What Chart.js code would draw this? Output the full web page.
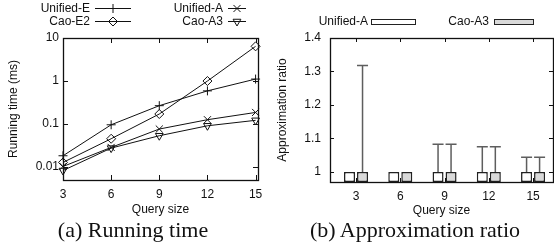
<!DOCTYPE html>
<html><head><meta charset="utf-8">
<script src="https://cdn.jsdelivr.net/npm/chart.js@4/dist/chart.umd.min.js"></script>
<style>
html,body{margin:0;padding:0;background:#fff;width:554px;height:248px;overflow:hidden;position:relative}
#wa{position:absolute;left:0;top:0;width:277px;height:248px}
#wb{position:absolute;left:267px;top:0;width:287px;height:248px}
.cap{position:absolute;top:218px;width:300px;font-family:"Liberation Serif","Times New Roman",serif;font-size:22px;line-height:24px;color:#111;white-space:nowrap;text-align:center}
</style></head><body>
<div id="wa"><canvas id="c1" width="277" height="248"></canvas></div>
<div id="wb"><canvas id="c2" width="287" height="248"></canvas></div>
<div class="cap" style="left:-17px">(a) Running time</div>
<div class="cap" style="left:265px">(b) Approximation ratio</div>
<script>
// ---- data (a) running time ----
const querySizes = [3, 6, 9, 12, 15];
const unifiedE = [0.0183, 0.096, 0.267, 0.59, 1.11];
const caoE2 = [0.0128, 0.0455, 0.171, 1.0, 6.4];
const unifiedA = [0.0103, 0.0286, 0.0765, 0.126, 0.186];
const caoA3 = [0.0083, 0.0276, 0.0535, 0.091, 0.122];
const timeTicks = [0.01, 0.1, 1, 10];
// ---- data (b) approximation ratio ----
const ratioCategories = ['3', '6', '9', '12', '15'];
const ratioUnifiedA = [1, 1, 1, 1, 1];
const ratioCaoA3 = [1, 1, 1, 1, 1];
const ratioUnifiedAMax = [1, 1, 1.083, 1.075, 1.044];
const ratioCaoA3Max = [1.318, 1, 1.083, 1.075, 1.044];
const ratioTicks = [1, 1.1, 1.2, 1.3, 1.4];

Chart.defaults.font.family = '"Liberation Sans", Arial, Helvetica, sans-serif';
Chart.defaults.font.size = 12;
Chart.defaults.color = '#111';

const frameAndTicks = {
  id: 'frameAndTicks',
  afterDatasetsDraw(chart, args, opts) {
    const {ctx, chartArea: a, scales: {x, y}} = chart;
    ctx.save();
    ctx.strokeStyle = '#111';
    ctx.lineWidth = 1;
    ctx.beginPath();
    x.ticks.forEach(t => {
      const px = Math.round(x.getPixelForValue(t.value)) + 0.5;
      ctx.moveTo(px, a.bottom); ctx.lineTo(px, a.bottom - opts.len);
      ctx.moveTo(px, a.top); ctx.lineTo(px, a.top + opts.len);
    });
    y.ticks.forEach(t => {
      const py = Math.round(y.getPixelForValue(t.value)) + 0.5;
      ctx.moveTo(a.left, py); ctx.lineTo(a.left + opts.len, py);
      ctx.moveTo(a.right, py); ctx.lineTo(a.right - opts.len, py);
    });
    ctx.stroke();
    ctx.lineWidth = 1.3;
    ctx.strokeRect(Math.round(a.left) + 0.5, Math.round(a.top) + 0.5, Math.round(a.right - a.left), Math.round(a.bottom - a.top));
    ctx.restore();
  }
};

const lineLegend = {
  id: 'lineLegend',
  afterDraw(chart, args, opts) {
    const ctx = chart.ctx;
    ctx.save();
    ctx.font = '12px "Liberation Sans", Arial, sans-serif';
    ctx.textAlign = 'right';
    ctx.textBaseline = 'middle';
    opts.items.forEach((it, i) => {
      const ds = chart.data.datasets[i];
      ctx.fillStyle = '#111';
      ctx.fillText(ds.label, it.tx, it.y + 0.5);
      ctx.strokeStyle = '#111';
      ctx.lineWidth = 1;
      ctx.beginPath();
      ctx.moveTo(it.x1, it.y + 0.5); ctx.lineTo(it.x2, it.y + 0.5);
      ctx.stroke();
      ctx.fillStyle = 'rgba(0,0,0,0)';
      Chart.helpers.drawPoint(ctx, {
        pointStyle: ds.pointStyle, radius: ds.pointRadius, rotation: ds.pointRotation || 0,
        borderWidth: 1
      }, (it.x1 + it.x2) / 2, it.y + 0.5);
    });
    ctx.restore();
  }
};

new Chart(document.getElementById('c1'), {
  type: 'line',
  data: {
    datasets: [
      {label: 'Unified-E', data: querySizes.map((q, i) => ({x: q, y: unifiedE[i]})), pointStyle: 'cross', pointRadius: 4.5},
      {label: 'Cao-E2', data: querySizes.map((q, i) => ({x: q, y: caoE2[i]})), pointStyle: 'rectRot', pointRadius: 4.5},
      {label: 'Unified-A', data: querySizes.map((q, i) => ({x: q, y: unifiedA[i]})), pointStyle: 'crossRot', pointRadius: 5},
      {label: 'Cao-A3', data: querySizes.map((q, i) => ({x: q, y: caoA3[i]})), pointStyle: 'triangle', pointRotation: 180, pointRadius: 4.5}
    ].map(d => Object.assign({borderColor: '#111', borderWidth: 1, pointBorderColor: '#111', pointBackgroundColor: 'rgba(0,0,0,0)', pointBorderWidth: 1, tension: 0, clip: false}, d))
  },
  options: {
    responsive: false, animation: false,
    layout: {padding: {left: 0, right: 19, top: 38, bottom: 30}},
    plugins: {legend: {display: false}, tooltip: {enabled: false},
      frameAndTicks: {len: 5},
      lineLegend: {items: [
        {tx: 90, x1: 95, x2: 131, y: 8},
        {tx: 90, x1: 95, x2: 131, y: 21},
        {tx: 223, x1: 228, x2: 246, y: 8},
        {tx: 223, x1: 228, x2: 246, y: 21}
      ]}
    },
    scales: {
      x: {type: 'linear', min: 3, max: 15.15,
        grid: {display: false, drawTicks: false}, border: {display: false},
        afterBuildTicks: s => { s.ticks = querySizes.map(v => ({value: v})); },
        afterFit: s => { s.height = 38; },
        ticks: {padding: 7, callback: v => String(v), maxRotation: 0},
        title: {display: true, text: 'Query size', padding: {top: 0, bottom: 1}}
      },
      y: {type: 'logarithmic', min: 0.005, max: 10,
        grid: {display: false, drawTicks: false}, border: {display: false},
        afterBuildTicks: s => { s.ticks = timeTicks.map(v => ({value: v})); },
        afterFit: s => { s.width = 63; },
        ticks: {padding: 4, callback: v => String(v)},
        title: {display: true, text: 'Running time (ms)', padding: {top: 6, bottom: 0}}
      }
    }
  },
  plugins: [frameAndTicks, lineLegend]
});

const errorBars = {
  id: 'errorBars',
  afterDatasetsDraw(chart, args, opts) {
    const {ctx, scales: {y}} = chart;
    ctx.save();
    ctx.strokeStyle = opts.color;
    ctx.lineWidth = 1.5;
    chart.data.datasets.forEach((ds, i) => {
      const meta = chart.getDatasetMeta(i);
      meta.data.forEach((bar, j) => {
        const v = ds.data[j].y, top = ds.errMax[j];
        if (top <= v) return;
        const y0 = y.getPixelForValue(v), y1 = y.getPixelForValue(top);
        const hw = bar.width / 2;
        ctx.beginPath();
        ctx.moveTo(bar.x, y0); ctx.lineTo(bar.x, y1);
        ctx.moveTo(bar.x - hw, y1); ctx.lineTo(bar.x + hw, y1);
        ctx.stroke();
      });
    });
    ctx.restore();
  }
};

const boxLegend = {
  id: 'boxLegend',
  afterDraw(chart, args, opts) {
    const ctx = chart.ctx;
    ctx.save();
    ctx.font = '12px "Liberation Sans", Arial, sans-serif';
    ctx.textAlign = 'right';
    ctx.textBaseline = 'middle';
    opts.items.forEach((it, i) => {
      const ds = chart.data.datasets[i];
      ctx.fillStyle = '#111';
      ctx.fillText(ds.label, it.tx, it.y);
      ctx.fillStyle = ds.backgroundColor;
      ctx.fillRect(it.x1, it.y - 3, it.x2 - it.x1, 6);
      ctx.strokeStyle = '#222';
      ctx.lineWidth = 1;
      ctx.strokeRect(it.x1 + 0.5, it.y - 2.5, it.x2 - it.x1, 5);
    });
    ctx.restore();
  }
};

new Chart(document.getElementById('c2'), {
  type: 'bar',
  data: {
    datasets: [
      {label: 'Unified-A', data: ratioUnifiedA.map((v, i) => ({x: i, y: v})), errMax: ratioUnifiedAMax, backgroundColor: '#ffffff'},
      {label: 'Cao-A3', data: ratioCaoA3.map((v, i) => ({x: i, y: v})), errMax: ratioCaoA3Max, backgroundColor: '#d9d9d9'}
    ].map(d => Object.assign({borderColor: '#222', borderWidth: 1.5, borderSkipped: false, base: 0.97,
      categoryPercentage: 0.588, barPercentage: 0.846}, d))
  },
  options: {
    responsive: false, animation: false,
    layout: {padding: {left: 0, right: 1, top: 38, bottom: 30}},
    plugins: {legend: {display: false}, tooltip: {enabled: false},
      frameAndTicks: {len: 4},
      errorBars: {color: '#5e5e5e'},
      boxLegend: {items: [
        {tx: 101, x1: 104, x2: 148, y: 22},
        {tx: 222, x1: 227, x2: 266, y: 22}
      ]}
    },
    scales: {
      x: {type: 'linear', min: -0.588, max: 4.45, offset: false,
        grid: {display: false, drawTicks: false}, border: {display: false},
        afterBuildTicks: s => { s.ticks = ratioCategories.map((c, i) => ({value: i})); },
        afterFit: s => { s.height = 36; },
        ticks: {padding: 7, callback: v => ratioCategories[v], maxRotation: 0},
        title: {display: true, text: 'Query size', padding: {top: 0, bottom: 0}}
      },
      y: {type: 'linear', min: 0.97, max: 1.4,
        grid: {display: false, drawTicks: false}, border: {display: false},
        afterBuildTicks: s => { s.ticks = ratioTicks.map(v => ({value: v})); },
        afterFit: s => { s.width = 63; },
        ticks: {padding: 9, callback: v => String(v)},
        title: {display: true, text: 'Approximation ratio', padding: {top: 8, bottom: 0}}
      }
    }
  },
  plugins: [errorBars, frameAndTicks, boxLegend]
});
</script>
</body></html>
